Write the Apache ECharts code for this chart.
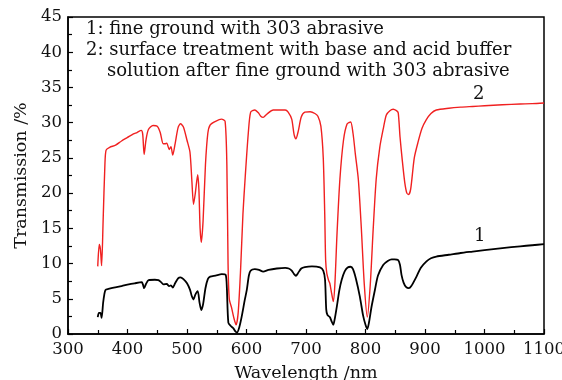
<!DOCTYPE html>
<html><head><meta charset="utf-8">
<script src="https://cdn.jsdelivr.net/npm/echarts@6/dist/echarts.min.js"></script>
<style>html,body{margin:0;padding:0;background:#fff}#c{width:562px;height:380px}</style>
</head><body><div id="c"></div>
<script>
// Series 2 (red): surface treatment
const wl2 = [350,352.5,354.5,356.5,359,362,364,370,380,390,400,410,416,423,425.5,428,431,435,443,450,455,460,463,466,470,473,476,480,485,489,494,500,505,508,511,514,518,520,522,524,527,531,535,539,548,558,564,567,569,571,575,579,582.5,586,590,594,598,603,607,614,620,624,628,634,645,655,665,670,676,680,683,687,692,698,707,715,720,725,729,731.5,733,735,738,740,743,745.8,748.5,752,757,763,769,775,779,783,788,793,798,803,808,813,818,824,830,835,841,846.5,852,855,858,862,866,869.5,872.5,876,882,888.5,895,902,910,919,940,960,980,1000,1030,1060,1080,1100];
const tr2 = [9.6,12.7,12.0,9.7,16,24,26.1,26.5,26.8,27.4,27.9,28.4,28.6,28.9,28.4,25.5,27.5,29.0,29.6,29.5,28.6,27.0,27.0,27.1,26.2,26.6,25.4,27.0,29.3,29.85,29.4,27.5,25.8,22,18.4,20,22.6,20.5,15,13.0,16,24,28.5,29.7,30.2,30.5,30.2,24,10,5.0,3.7,2.2,1.3,3,9,17,22.5,28.5,31.5,31.8,31.4,30.9,30.75,31.2,31.8,31.8,31.8,31.5,30.5,28.3,27.7,28.8,30.8,31.5,31.55,31.3,30.9,29.5,25,17,10.5,8.6,7.6,7.2,5.8,4.6,7,14,22,27.5,29.8,30.1,28.5,25.5,21.9,15,7,2.4,7,15,22,26.5,29.2,31.1,31.7,31.9,31.7,31.4,28,24.5,21.5,20.0,19.8,20.6,25,27.3,29.2,30.4,31.3,31.8,32.05,32.2,32.3,32.4,32.55,32.65,32.7,32.8];
// Series 1 (black): fine ground
const wl1 = [350,352,354.5,356.5,359,361,363,368,377,390,402,412,424,426,428,431,435.5,446,452,456,460.5,466,470,473,476,480,485,489,494,500,505,508,511,514,518,521,524,527,531,535,539,548,558.5,565,567,569.5,574,578,581,584,588,592,597,600.5,604,607,614,621,628,637,651,665,671,676,680,683,687,692,698,710,723.5,729,732,734,736,740,743,745.8,748,752,756,760,765,770,775,779,784,790.5,796,800,803,806,810,815.8,821,829.7,838,844,849,855,858,860.5,864,868,872.8,877,885.7,893,902.5,910,919,940,960,980,1000,1030,1060,1080,1100];
const tr1 = [2.4,3.0,3.0,2.3,4.4,5.6,6.25,6.4,6.6,6.8,7.05,7.2,7.35,7.0,6.5,7.1,7.65,7.7,7.65,7.4,7.05,7.1,6.8,6.9,6.6,7.2,7.9,8.05,7.8,7.2,6.3,5.4,4.9,5.6,6.1,4.5,3.4,4.2,6.5,7.8,8.15,8.3,8.5,8.4,6.5,1.6,1.1,0.8,0.4,0.2,1.0,2.5,4.8,6.25,8.3,9.0,9.2,9.1,8.85,9.1,9.3,9.4,9.3,9.0,8.5,8.25,8.7,9.3,9.5,9.6,9.45,9.0,7.7,3.5,2.7,2.4,1.8,1.3,2,4,6.2,7.7,8.9,9.45,9.55,9.2,7.8,5.3,2.6,1.3,0.7,1.7,3.8,6.25,8.3,9.8,10.4,10.6,10.6,10.5,9.8,8.4,7.3,6.7,6.5,6.8,8.15,9.4,10.3,10.75,11.0,11.25,11.5,11.7,11.9,12.2,12.45,12.6,12.75];
const xTicks = [300,400,500,600,700,800,900,1000,1100];
const yTicks = [0,5,10,15,20,25,30,35,40,45];
const noteLines = ['1: fine ground with 303 abrasive','2: surface treatment with base and acid buffer','solution after fine ground with 303 abrasive'];
const seriesLabels = ['1','2'];

const FONT = 'DejaVu Serif';
const NOTE_FONT = '18px "DejaVu Serif"';
const chart = echarts.init(document.getElementById('c'), null, {renderer:'canvas'});
const zip = (a,b)=>a.map((v,i)=>[v,b[i]]);
chart.setOption({
  animation:false,
  backgroundColor:'#fff',
  grid:{left:68,right:18,top:17,bottom:46,containLabel:false,outerBoundsMode:'none',show:true,borderColor:'#000',borderWidth:1.5,backgroundColor:'transparent'},
  xAxis:{type:'value',min:xTicks[0],max:xTicks[xTicks.length-1],interval:100,
    name:'Wavelength /nm',nameLocation:'middle',nameGap:30,
    nameTextStyle:{fontFamily:FONT,fontSize:17.5,color:'#111'},
    axisLine:{lineStyle:{color:'#000',width:1.5}},
    axisTick:{inside:true,length:5,lineStyle:{color:'#000',width:1.2}},
    minorTick:{show:true,splitNumber:2,length:4,lineStyle:{color:'#000',width:1.2}},
    axisLabel:{fontFamily:FONT,fontSize:16.5,color:'#111',margin:7,formatter:v=>String(v)},
    splitLine:{show:false}},
  yAxis:{type:'value',min:yTicks[0],max:yTicks[yTicks.length-1],interval:5,
    name:'Transmission /%',nameLocation:'middle',nameGap:37,
    nameTextStyle:{fontFamily:FONT,fontSize:17.5,color:'#111'},
    axisLine:{lineStyle:{color:'#000',width:1.5}},
    axisTick:{inside:true,length:5,lineStyle:{color:'#000',width:1.2}},
    minorTick:{show:true,splitNumber:2,length:4,lineStyle:{color:'#000',width:1.2}},
    axisLabel:{fontFamily:FONT,fontSize:16.5,color:'#111',margin:6,formatter:v=>String(v)},
    splitLine:{show:false}},
  series:[
    {type:'line',data:zip(wl2,tr2),showSymbol:false,smooth:0.25,lineStyle:{color:'#f02020',width:1.4},z:3},
    {type:'line',data:zip(wl1,tr1),showSymbol:false,smooth:0.25,lineStyle:{color:'#000',width:1.8},z:2}
  ],
  graphic:[
    {type:'text',left:86,top:20,style:{text:noteLines[0],font:NOTE_FONT,fill:'#111'}},
    {type:'text',left:86,top:41,style:{text:noteLines[1],font:NOTE_FONT,fill:'#111'}},
    {type:'text',left:107,top:62,style:{text:noteLines[2],font:NOTE_FONT,fill:'#111'}},
    {type:'text',left:473,top:85,style:{text:seriesLabels[1],font:NOTE_FONT,fill:'#111'}},
    {type:'text',left:474,top:227,style:{text:seriesLabels[0],font:NOTE_FONT,fill:'#111'}}
  ]
});
</script></body></html>
